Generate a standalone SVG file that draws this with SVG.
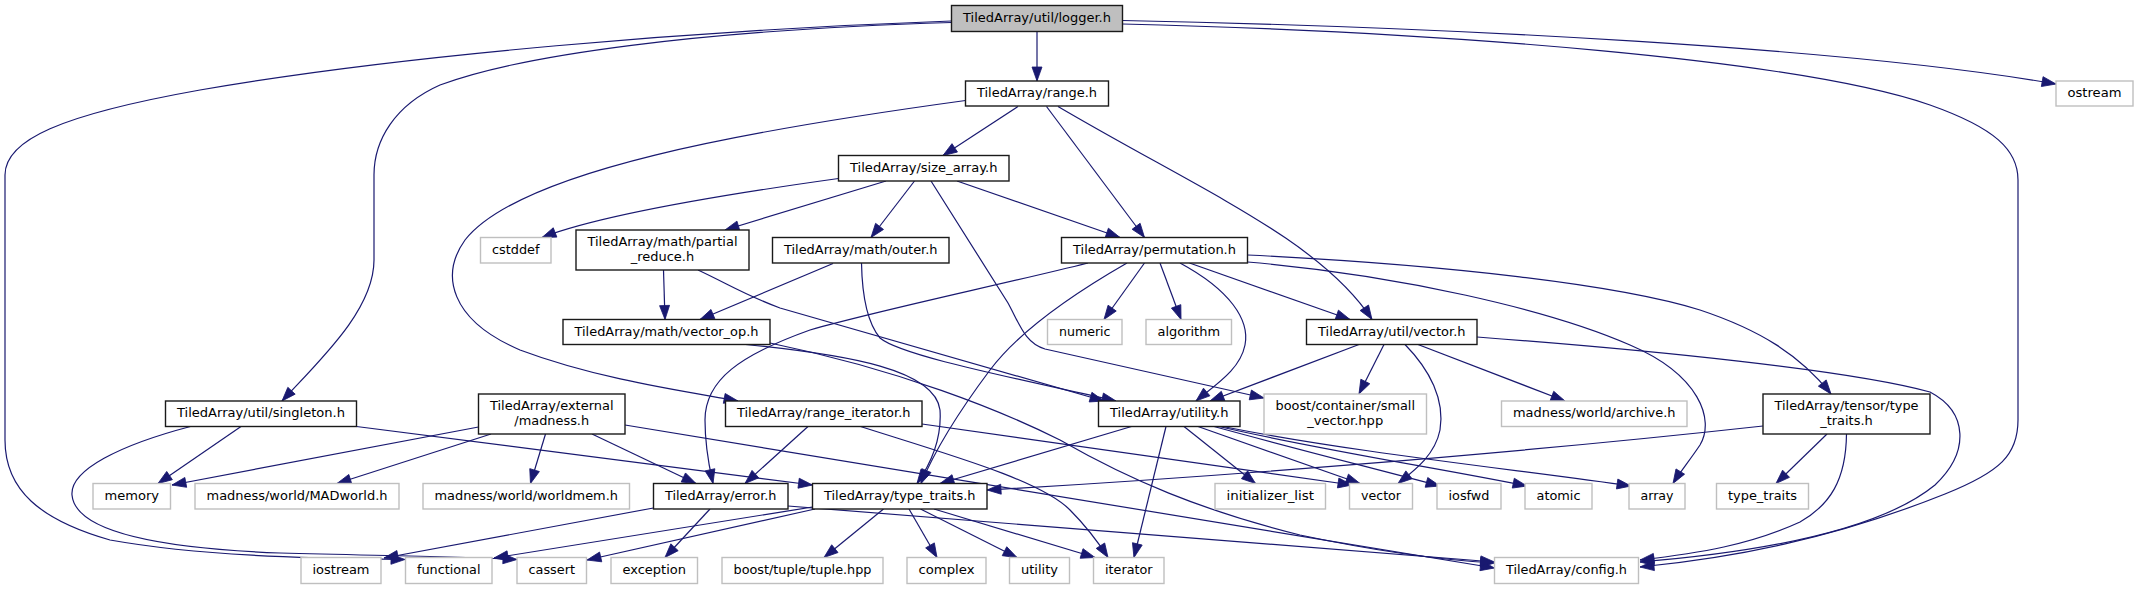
<svg xmlns="http://www.w3.org/2000/svg" width="2138" height="589" viewBox="0 0 2138 589">
<style>
rect{fill:#fff;stroke:#1a1a1a;stroke-width:1.4}
.x rect{stroke:#bfbfbf}
.r rect{fill:#bfbfbf}
text{font-family:"DejaVu Sans","Liberation Sans",sans-serif;font-size:12px;text-anchor:middle;fill:#000}
#edges path{fill:none;stroke:#191970;stroke-width:1.2;marker-end:url(#a)}
</style>
<defs>
<marker id="a" markerUnits="userSpaceOnUse" markerWidth="15" markerHeight="11" refX="14" refY="5" orient="auto" overflow="visible">
<path d="M0,0 L14,5 L0,10 z" fill="#191970" stroke="#191970" stroke-width="0.8"/>
</marker>
</defs>
<rect x="0" y="0" width="2138" height="589" style="fill:#fff;stroke:none"/>
<g id="edges">
<path d="M1037,31.5 L1037,81"/>
<path d="M1122.5,20.5 C1450,27 1850,48 2056,84"/>
<path d="M1122.5,24 C1450,32 1800,60 1930,105 C1995,128 2018,150 2018,180 L2018,420 C2018,455 2000,472 1945,494 C1830,540 1730,558 1640,567"/>
<path d="M951.5,21 C700,30 400,55 200,90 C60,115 5,140 5,175 L5,440 C5,490 40,520 110,540 C200,556 300,558 405,559.5"/>
<path d="M951.5,22.5 C700,30 520,55 440,85 C395,105 374,140 374,175 L374,260 C374,310 320,360 282,401"/>
<path d="M1018,106.5 L943,155.5"/>
<path d="M1046.5,106.5 L1144.5,237.5"/>
<path d="M1058,106.5 C1200,190 1320,240 1372,319.5"/>
<path d="M965.5,100.5 C750,130 520,170 465,240 C440,275 450,320 520,350 C600,380 690,392 738,401"/>
<path d="M838.5,178.5 C720,195 600,215 542,237.5"/>
<path d="M886,181 L725,230"/>
<path d="M914.5,181 L871,237.5"/>
<path d="M957,181 L1120,237.5"/>
<path d="M931,181 L1008,303 C1020,325 1025,343 1045,349 L1264,398"/>
<path d="M663.5,270 L665,319.5"/>
<path d="M698,270 C730,285 745,295 780,308 L1104,401"/>
<path d="M833,263.5 L700,319.5"/>
<path d="M861.5,263 C862,290 865,320 880,338 C900,355 1000,375 1116,401"/>
<path d="M745.5,344.5 C850,355 935,370 940,410 C942,440 930,465 917,483.5"/>
<path d="M770,343 C900,370 1000,410 1060,440 C1130,480 1200,510 1300,535 C1380,552 1440,560 1494.5,563"/>
<path d="M478.5,427 L172,485"/>
<path d="M491,434 L337,483.5"/>
<path d="M545.5,434 L530.5,483.5"/>
<path d="M592,434 L696,483.5"/>
<path d="M625,425 L1494.5,568"/>
<path d="M808,426.5 L745,483.5"/>
<path d="M860.5,426.5 C950,455 1040,480 1070,510 C1090,530 1100,545 1108,557.5"/>
<path d="M922,424 C1100,450 1250,470 1352,485"/>
<path d="M1131.5,426.5 L940,483.5"/>
<path d="M1166,426.5 L1134,557.5"/>
<path d="M1184,426.5 L1255.5,483.5"/>
<path d="M1198,426.5 L1360,483.5"/>
<path d="M1214,426.5 C1300,450 1380,470 1440,486"/>
<path d="M1219,426.5 C1320,450 1450,470 1527,486"/>
<path d="M1223,426.5 C1350,452 1520,470 1631,486"/>
<path d="M1763,426 C1500,455 1200,478 987,490"/>
<path d="M1827,434 L1776,483.5"/>
<path d="M1846.5,434 C1846,480 1830,505 1800,522 C1750,545 1700,553 1640,560"/>
<path d="M1359,344.5 L1210,401"/>
<path d="M1384,344.5 L1359,394"/>
<path d="M1405,344.5 C1430,370 1445,400 1440,430 C1435,455 1415,470 1398,483.5"/>
<path d="M1418,344.5 L1565,401"/>
<path d="M1477,337 C1650,350 1850,370 1930,392 C1968,412 1970,452 1935,485 C1880,530 1760,552 1640,562"/>
<path d="M1144.5,263 L1104,319.5"/>
<path d="M1160,263 L1181,319.5"/>
<path d="M1180,263 C1230,290 1250,320 1245,345 C1240,370 1215,385 1196,401"/>
<path d="M1189.5,263 L1350,319.5"/>
<path d="M1127,263 C1080,290 1020,330 990,370 C960,410 935,450 921,483.5"/>
<path d="M1088,263 C1000,285 880,310 810,330 C740,355 705,380 705,420 C705,450 710,470 713,483.5"/>
<path d="M1247.5,255 C1450,265 1620,285 1700,310 C1760,330 1800,355 1831,394"/>
<path d="M1247.5,262 C1400,275 1550,310 1630,345 C1700,375 1715,420 1700,445 C1690,460 1680,472 1673,483.5"/>
<path d="M241,426.5 L158,483.5"/>
<path d="M190.5,426.5 C120,445 70,470 72,495 C75,530 150,548 280,553 C400,556 470,557 517,559.5"/>
<path d="M356.5,426.5 L812.5,485"/>
<path d="M653.5,508 L384,558"/>
<path d="M710,509 L665,557.5"/>
<path d="M788,506 L1494.5,562"/>
<path d="M812.5,507 L494,558"/>
<path d="M815,509 L587,560"/>
<path d="M883.5,509 L824,557.5"/>
<path d="M909,509 L937,557.5"/>
<path d="M920.5,509 L1017,557.5"/>
<path d="M934,509 L1095,557.5"/>
</g>
<g id="n-logger" class="r"><rect x="951.5" y="5.5" width="171" height="26"/><text x="1037" y="22" textLength="148" lengthAdjust="spacingAndGlyphs">TiledArray/util/logger.h</text></g>
<g id="n-range"><rect x="965.5" y="81" width="143" height="25"/><text x="1037" y="97" textLength="120" lengthAdjust="spacingAndGlyphs">TiledArray/range.h</text></g>
<g id="n-ostream" class="x"><rect x="2056" y="81" width="77" height="25"/><text x="2094.5" y="97" textLength="54" lengthAdjust="spacingAndGlyphs">ostream</text></g>
<g id="n-size_array"><rect x="838.5" y="155.5" width="170.5" height="25.5"/><text x="923.75" y="171.7" textLength="147.5" lengthAdjust="spacingAndGlyphs">TiledArray/size_array.h</text></g>
<g id="n-cstddef" class="x"><rect x="480.5" y="237.5" width="70.5" height="25.5"/><text x="515.75" y="253.7" textLength="47.5" lengthAdjust="spacingAndGlyphs">cstddef</text></g>
<g id="n-partial_reduce"><rect x="576" y="230" width="173" height="40"/><text x="662.5" y="246" textLength="150" lengthAdjust="spacingAndGlyphs">TiledArray/math/partial</text><text x="662.5" y="261" textLength="63.4" lengthAdjust="spacingAndGlyphs">_reduce.h</text></g>
<g id="n-outer"><rect x="772.5" y="237.5" width="176.5" height="25.5"/><text x="860.75" y="253.7" textLength="153.5" lengthAdjust="spacingAndGlyphs">TiledArray/math/outer.h</text></g>
<g id="n-permutation"><rect x="1061.5" y="237.5" width="186" height="25.5"/><text x="1154.5" y="253.7" textLength="163" lengthAdjust="spacingAndGlyphs">TiledArray/permutation.h</text></g>
<g id="n-vector_op"><rect x="563" y="319.5" width="207" height="25"/><text x="666.5" y="335.5" textLength="184" lengthAdjust="spacingAndGlyphs">TiledArray/math/vector_op.h</text></g>
<g id="n-numeric" class="x"><rect x="1047.5" y="319.5" width="74.5" height="25"/><text x="1084.75" y="335.5" textLength="51.5" lengthAdjust="spacingAndGlyphs">numeric</text></g>
<g id="n-algorithm" class="x"><rect x="1146" y="319.5" width="85.5" height="25"/><text x="1188.75" y="335.5" textLength="62.5" lengthAdjust="spacingAndGlyphs">algorithm</text></g>
<g id="n-util_vector"><rect x="1306.5" y="319.5" width="170.5" height="25"/><text x="1391.75" y="335.5" textLength="147.5" lengthAdjust="spacingAndGlyphs">TiledArray/util/vector.h</text></g>
<g id="n-singleton"><rect x="165.5" y="401" width="191" height="25.5"/><text x="261" y="417.3" textLength="168" lengthAdjust="spacingAndGlyphs">TiledArray/util/singleton.h</text></g>
<g id="n-madness"><rect x="478.5" y="394" width="146.5" height="40"/><text x="551.75" y="410" textLength="123.5" lengthAdjust="spacingAndGlyphs">TiledArray/external</text><text x="551.75" y="425" textLength="74.8" lengthAdjust="spacingAndGlyphs">/madness.h</text></g>
<g id="n-range_iterator"><rect x="725.5" y="401" width="196.5" height="25.5"/><text x="823.75" y="417.3" textLength="173.5" lengthAdjust="spacingAndGlyphs">TiledArray/range_iterator.h</text></g>
<g id="n-utility_h"><rect x="1098.5" y="401" width="141.5" height="25.5"/><text x="1169.25" y="417.3" textLength="118.5" lengthAdjust="spacingAndGlyphs">TiledArray/utility.h</text></g>
<g id="n-small_vector" class="x"><rect x="1264" y="394" width="162.5" height="40"/><text x="1345.25" y="410" textLength="139.5" lengthAdjust="spacingAndGlyphs">boost/container/small</text><text x="1345.25" y="425" textLength="76" lengthAdjust="spacingAndGlyphs">_vector.hpp</text></g>
<g id="n-archive" class="x"><rect x="1501.5" y="401" width="185.5" height="25.5"/><text x="1594.25" y="417.3" textLength="162.5" lengthAdjust="spacingAndGlyphs">madness/world/archive.h</text></g>
<g id="n-tensor_type_traits"><rect x="1763" y="394" width="167" height="40"/><text x="1846.5" y="410" textLength="144" lengthAdjust="spacingAndGlyphs">TiledArray/tensor/type</text><text x="1846.5" y="425" textLength="52.4" lengthAdjust="spacingAndGlyphs">_traits.h</text></g>
<g id="n-memory" class="x"><rect x="93" y="483.5" width="77.5" height="25.5"/><text x="131.75" y="499.7" textLength="54.5" lengthAdjust="spacingAndGlyphs">memory</text></g>
<g id="n-madworld" class="x"><rect x="195" y="483.5" width="204" height="25.5"/><text x="297" y="499.7" textLength="181" lengthAdjust="spacingAndGlyphs">madness/world/MADworld.h</text></g>
<g id="n-worldmem" class="x"><rect x="423" y="483.5" width="206.5" height="25.5"/><text x="526.25" y="499.7" textLength="183.5" lengthAdjust="spacingAndGlyphs">madness/world/worldmem.h</text></g>
<g id="n-error"><rect x="653.5" y="483.5" width="134.5" height="25.5"/><text x="720.75" y="499.7" textLength="111.5" lengthAdjust="spacingAndGlyphs">TiledArray/error.h</text></g>
<g id="n-type_traits_h"><rect x="812.5" y="483.5" width="174.5" height="25.5"/><text x="899.75" y="499.7" textLength="151.5" lengthAdjust="spacingAndGlyphs">TiledArray/type_traits.h</text></g>
<g id="n-initializer_list" class="x"><rect x="1215" y="483.5" width="110.5" height="25.5"/><text x="1270.25" y="499.7" textLength="87.5" lengthAdjust="spacingAndGlyphs">initializer_list</text></g>
<g id="n-vector" class="x"><rect x="1349.5" y="483.5" width="63" height="25.5"/><text x="1381" y="499.7" textLength="40" lengthAdjust="spacingAndGlyphs">vector</text></g>
<g id="n-iosfwd" class="x"><rect x="1437" y="483.5" width="64" height="25.5"/><text x="1469" y="499.7" textLength="41" lengthAdjust="spacingAndGlyphs">iosfwd</text></g>
<g id="n-atomic" class="x"><rect x="1525" y="483.5" width="67" height="25.5"/><text x="1558.5" y="499.7" textLength="44" lengthAdjust="spacingAndGlyphs">atomic</text></g>
<g id="n-array" class="x"><rect x="1629" y="483.5" width="56" height="25.5"/><text x="1657" y="499.7" textLength="33" lengthAdjust="spacingAndGlyphs">array</text></g>
<g id="n-type_traits" class="x"><rect x="1716.5" y="483.5" width="92" height="25.5"/><text x="1762.5" y="499.7" textLength="69" lengthAdjust="spacingAndGlyphs">type_traits</text></g>
<g id="n-iostream" class="x"><rect x="301" y="557.5" width="80" height="26"/><text x="341" y="574" textLength="57" lengthAdjust="spacingAndGlyphs">iostream</text></g>
<g id="n-functional" class="x"><rect x="405.5" y="557.5" width="86.5" height="26"/><text x="448.75" y="574" textLength="63.5" lengthAdjust="spacingAndGlyphs">functional</text></g>
<g id="n-cassert" class="x"><rect x="517" y="557.5" width="69.5" height="26"/><text x="551.75" y="574" textLength="46.5" lengthAdjust="spacingAndGlyphs">cassert</text></g>
<g id="n-exception" class="x"><rect x="611" y="557.5" width="86.5" height="26"/><text x="654.25" y="574" textLength="63.5" lengthAdjust="spacingAndGlyphs">exception</text></g>
<g id="n-boost_tuple" class="x"><rect x="722" y="557.5" width="161" height="26"/><text x="802.5" y="574" textLength="138" lengthAdjust="spacingAndGlyphs">boost/tuple/tuple.hpp</text></g>
<g id="n-complex" class="x"><rect x="907" y="557.5" width="79" height="26"/><text x="946.5" y="574" textLength="56" lengthAdjust="spacingAndGlyphs">complex</text></g>
<g id="n-utility" class="x"><rect x="1009.5" y="557.5" width="60" height="26"/><text x="1039.5" y="574" textLength="37" lengthAdjust="spacingAndGlyphs">utility</text></g>
<g id="n-iterator" class="x"><rect x="1093.5" y="557.5" width="70.5" height="26"/><text x="1128.75" y="574" textLength="47.5" lengthAdjust="spacingAndGlyphs">iterator</text></g>
<g id="n-config" class="x"><rect x="1494.5" y="557.5" width="144" height="26"/><text x="1566.5" y="574" textLength="121" lengthAdjust="spacingAndGlyphs">TiledArray/config.h</text></g>
</svg>
